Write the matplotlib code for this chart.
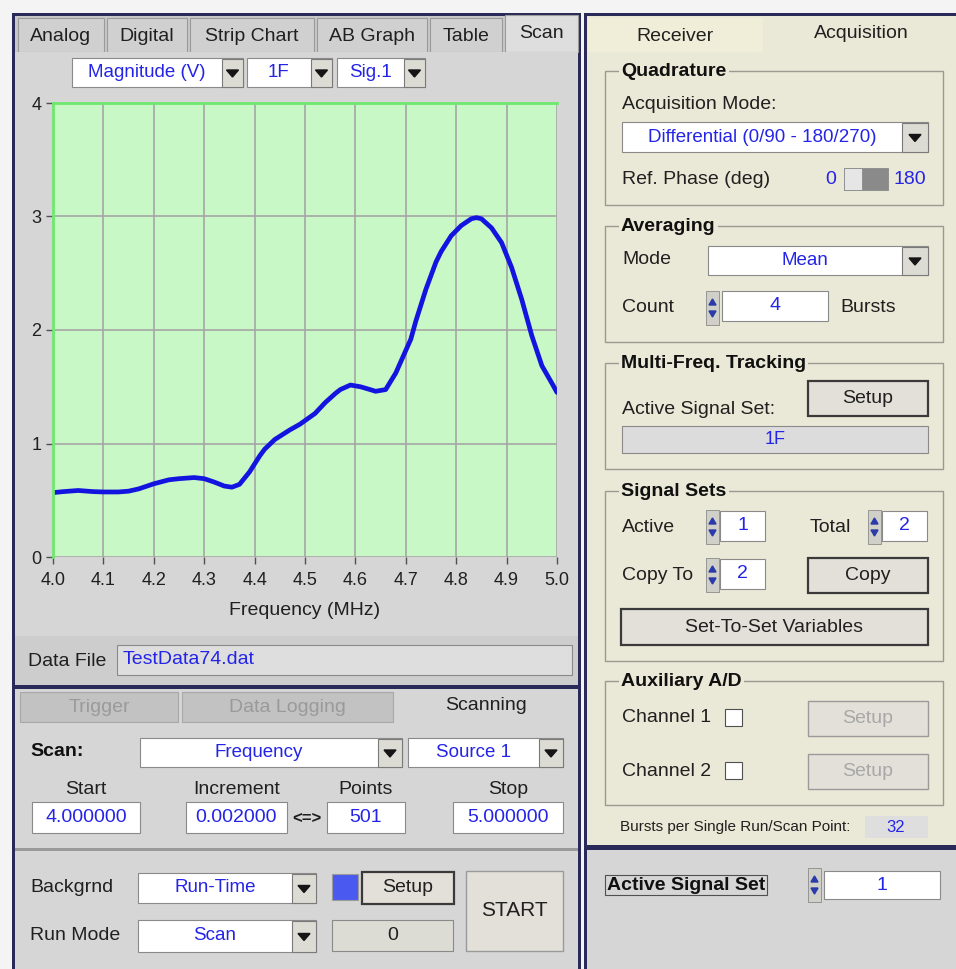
import numpy as np
import matplotlib.pyplot as plt
from matplotlib.patches import Rectangle, Polygon

# scan data (frequency in MHz, magnitude in V)
freq = [4.00, 4.02, 4.05, 4.08, 4.10, 4.13, 4.15, 4.17, 4.20, 4.23, 4.25, 4.28,
        4.30, 4.32, 4.34, 4.355, 4.37, 4.39, 4.41, 4.42, 4.44, 4.47, 4.49, 4.52,
        4.54, 4.56, 4.57, 4.59, 4.61, 4.63, 4.64, 4.66, 4.68, 4.69, 4.71, 4.72,
        4.74, 4.76, 4.77, 4.79, 4.81, 4.83, 4.84, 4.85, 4.87, 4.89, 4.91, 4.93,
        4.95, 4.97, 4.99, 5.00]
mag = [0.567, 0.576, 0.586, 0.576, 0.573, 0.573, 0.58, 0.60, 0.645, 0.68, 0.69, 0.70,
       0.69, 0.66, 0.625, 0.615, 0.64, 0.75, 0.89, 0.95, 1.035, 1.12, 1.17, 1.265,
       1.36, 1.44, 1.475, 1.515, 1.50, 1.474, 1.46, 1.475, 1.62, 1.72, 1.92, 2.08,
       2.36, 2.60, 2.69, 2.83, 2.92, 2.98, 2.99, 2.98, 2.90, 2.77, 2.55, 2.27,
       1.95, 1.685, 1.53, 1.45]
xticks = [4.0, 4.1, 4.2, 4.3, 4.4, 4.5, 4.6, 4.7, 4.8, 4.9, 5.0]
yticks = [0, 1, 2, 3, 4]

top_tabs = ["Analog", "Digital", "Strip Chart", "AB Graph", "Table", "Scan"]
scan_fields = ["Start", "Increment", "Points", "Stop"]
scan_values = ["4.000000", "0.002000", "501", "5.000000"]

BLUE = '#2424e8'
GREY = '#d6d6d6'
BEIGE = '#eae8d6'
NAVY = '#2a2a5a'
FONT = 'Liberation Sans'

W, H = 956, 969
fig = plt.figure(figsize=(W / 100, H / 100), dpi=100)
bg = fig.add_axes([0, 0, 1, 1])
bg.set_xlim(0, W)
bg.set_ylim(H, 0)
bg.axis('off')


def box(x0, y0, x1, y1, fc, ec='none', lw=1.0, z=1):
    bg.add_patch(Rectangle((x0, y0), x1 - x0, y1 - y0, facecolor=fc,
                           edgecolor=ec, linewidth=lw, zorder=z))


def txt(x, y, s, size=13.5, color='#202020', ha='left', weight='normal', z=6, **kw):
    bg.text(x, y, s, fontsize=size, color=color, ha=ha, va='center',
            fontweight=weight, zorder=z, family=FONT, **kw)


def field(x0, y0, x1, y1, s='', fc='white', color=BLUE, ha='center', size=13.5):
    box(x0, y0, x1, y1, fc, '#8a8a8a', 0.8, z=3)
    if s:
        xx = (x0 + x1) / 2 if ha == 'center' else x0 + 6
        txt(xx, (y0 + y1) / 2, s, size=size, color=color, ha=ha)


def arrow_btn(x0, y0, x1, y1):
    box(x0, y0, x1, y1, '#dcdcd4', '#7a7a7a', 0.8, z=4)
    cx, cy = (x0 + x1) / 2, (y0 + y1) / 2
    bg.add_patch(Polygon([[cx - 6, cy - 3], [cx + 6, cy - 3], [cx, cy + 4]],
                         closed=True, color='#151515', zorder=5))


def dropdown(x0, y0, x1, y1, s, cx=None, bw=21):
    box(x0, y0, x1, y1, 'white', '#8a8a8a', 0.8, z=3)
    arrow_btn(x1 - bw, y0 + 1, x1, y1)
    txt(cx if cx else (x0 + x1 - bw) / 2, (y0 + y1) / 2, s, color=BLUE, ha='center')


def button(x0, y0, x1, y1, s, disabled=False, dark=True, size=13.5):
    box(x0, y0, x1, y1, '#e2e0d8', '#3a3a3a' if dark else '#9a9a9a', 1.6 if dark else 1.0, z=3)
    txt((x0 + x1) / 2, (y0 + y1) / 2, s, color='#a8a8a8' if disabled else '#202020',
        ha='center', size=size)


def spinner(x0, y0, y1):
    box(x0, y0, x0 + 13, y1, '#d0d0c8', '#8a8a8a', 0.6, z=3)
    m = (y0 + y1) / 2
    bg.add_patch(Polygon([[x0 + 3, m - 3], [x0 + 10, m - 3], [x0 + 6.5, m - 9]], color='#2a3aa8', zorder=4))
    bg.add_patch(Polygon([[x0 + 3, m + 3], [x0 + 10, m + 3], [x0 + 6.5, m + 9]], color='#2a3aa8', zorder=4))


def group(x0, y0, x1, y1, title):
    box(x0, y0, x1, y1, 'none', '#9a9a90', 1.0, z=2)
    txt(x0 + 16, y0, title, size=14, weight='bold', color='#101010',
        bbox=dict(boxstyle='square,pad=0.12', fc=BEIGE, ec='none'))


# ---------- frame ----------
box(0, 0, W, H, '#f4f4f4')
box(12, 13, 581, H, NAVY)
box(15, 16, 578, H, '#c8c8c8')
box(584, 13, W, H, NAVY)
box(587, 16, W, 847, BEIGE)
box(587, 850, W, H, GREY)

# ---------- top tabs (left) ----------
tab_x = [(18, 104), (107, 187), (190, 314), (317, 427), (430, 502), (505, 578)]
for (a, b), name in zip(tab_x, top_tabs):
    active = name == "Scan"
    box(a, 18 if not active else 15, b, 52, '#dedede' if active else '#d0d0d0',
        '#9a9a9a', 0.8, z=2)
    txt((a + b) / 2, 36 if not active else 33, name, size=14, ha='center')
box(15, 52, 578, 640, GREY, z=2)

dropdown(72, 58, 243, 87, "Magnitude (V)")
dropdown(247, 58, 332, 87, "1F")
dropdown(337, 58, 425, 87, "Sig.1")

# ---------- the scan plot ----------
ax = fig.add_axes([53 / W, 1 - 557 / H, (557 - 53) / W, (557 - 103) / H])
ax.set_facecolor('#c8f8c6')
ax.plot(freq, mag, color='#1414e0', lw=3.4, solid_capstyle='round', solid_joinstyle='round')
ax.set_xlim(4.0, 5.0)
ax.set_ylim(0, 4)
ax.set_xticks(xticks)
ax.set_xticklabels([f"{v:.1f}" for v in xticks])
ax.set_yticks(yticks)
ax.grid(True, color='#a6a6a6', lw=1.2)
for side in ['bottom', 'right']:
    ax.spines[side].set_visible(False)
for side in ['top', 'left']:
    ax.spines[side].set_color('#6ee86e')
    ax.spines[side].set_linewidth(2)
ax.tick_params(axis='x', pad=6)
ax.tick_params(length=5, width=1, color='#505050', labelsize=13, labelcolor='#202020')
for lab in ax.get_xticklabels() + ax.get_yticklabels():
    lab.set_family(FONT)
ax.set_xlabel("Frequency (MHz)", fontsize=14, family=FONT, color='#202020', labelpad=9)

# ---------- data file ----------
box(15, 636, 578, 686, '#cdcdcd', z=2)
txt(28, 661, "Data File", size=14)
field(117, 645, 572, 675, "TestData74.dat", fc='#dedede', ha='left', size=14)
box(15, 685, 578, 689, NAVY, z=3)

# ---------- scanning tabs ----------
box(15, 689, 578, H, GREY, z=2)
box(20, 692, 178, 722, '#c2c2c2', '#a8a8a8', 0.8, z=3)
txt(99, 708, "Trigger", size=14, color='#9a9a9a', ha='center')
box(182, 692, 393, 722, '#c2c2c2', '#a8a8a8', 0.8, z=3)
txt(287, 708, "Data Logging", size=14, color='#9a9a9a', ha='center')
txt(486, 706, "Scanning", size=14, ha='center')

txt(30, 752, "Scan:", size=14, weight='bold', color='#101010')
dropdown(140, 738, 402, 767, "Frequency", bw=24)
dropdown(408, 738, 563, 767, "Source 1", bw=24)

field_x = [(32, 140), (186, 287), (327, 405), (453, 563)]
for (a, b), name, val in zip(field_x, scan_fields, scan_values):
    txt((a + b) / 2, 789, name, size=14, ha='center')
    field(a, 802, b, 833, val, size=14)
txt(307, 819, "<=>", size=12, ha='center', weight='bold')
box(15, 848, 578, 851, '#9a9a9a', z=3)

# ---------- run controls ----------
txt(30, 888, "Backgrnd", size=14)
dropdown(138, 873, 316, 903, "Run-Time", bw=24)
txt(30, 936, "Run Mode", size=14)
dropdown(138, 920, 316, 952, "Scan", bw=24)
box(332, 874, 358, 900, '#4a5af0', '#9a9a9a', 0.8, z=3)
button(362, 872, 454, 904, "Setup", size=14)
field(332, 920, 453, 951, "0", fc='#dcdcd4', color='#202020', size=14)
button(466, 871, 563, 951, "START", dark=False, size=15)

# ---------- right tabs ----------
box(588, 18, 763, 52, '#f0eed8', 'none', z=2)
txt(675, 36, "Receiver", size=14, ha='center')
txt(861, 33, "Acquisition", size=14, ha='center')

# quadrature
group(605, 71, 943, 205, "Quadrature")
txt(622, 104, "Acquisition Mode:", size=14)
dropdown(622, 122, 928, 152, "Differential (0/90 - 180/270)", bw=26)
txt(622, 179, "Ref. Phase (deg)", size=14)
txt(831, 179, "0", size=14, color=BLUE, ha='center')
box(844, 168, 888, 190, '#8a8a8a', '#8a8a8a', 0.6, z=3)
box(844, 168, 862, 190, '#e6e6e6', '#8a8a8a', 0.6, z=4)
txt(910, 179, "180", size=14, color=BLUE, ha='center')

# averaging
group(605, 226, 943, 342, "Averaging")
txt(622, 260, "Mode", size=14)
dropdown(708, 246, 928, 275, "Mean", bw=26)
txt(622, 308, "Count", size=14)
spinner(706, 291, 325)
field(722, 291, 828, 321, "4", size=14)
txt(840, 308, "Bursts", size=14)

# multi-freq
group(605, 363, 943, 469, "Multi-Freq. Tracking")
txt(622, 409, "Active Signal Set:", size=14)
button(808, 381, 928, 416, "Setup", size=14)
field(622, 426, 928, 453, "1F", fc='#dcdcdc', size=13)

# signal sets
group(605, 491, 943, 661, "Signal Sets")
txt(622, 527, "Active", size=14)
spinner(706, 510, 544)
field(720, 511, 765, 541, "1", size=14)
txt(810, 527, "Total", size=14)
spinner(868, 510, 544)
field(882, 511, 927, 541, "2", size=14)
txt(622, 575, "Copy To", size=14)
spinner(706, 558, 592)
field(720, 559, 765, 589, "2", size=14)
button(808, 558, 928, 593, "Copy", size=14)
button(621, 609, 928, 645, "Set-To-Set Variables", size=14)

# auxiliary
group(605, 681, 943, 805, "Auxiliary A/D")
txt(622, 718, "Channel 1", size=14)
box(725, 709, 742, 726, 'white', '#505050', 0.8, z=3)
button(808, 701, 928, 736, "Setup", disabled=True, dark=False, size=14)
txt(622, 771, "Channel 2", size=14)
box(725, 762, 742, 779, 'white', '#505050', 0.8, z=3)
button(808, 754, 928, 789, "Setup", disabled=True, dark=False, size=14)

txt(620, 827, "Bursts per Single Run/Scan Point:", size=11)
box(865, 816, 928, 838, '#dedede', z=3)
txt(896, 827, "32", size=12, color=BLUE, ha='center')
box(587, 845, W, 849, NAVY, z=3)

# active signal set
txt(607, 885, "Active Signal Set", size=14, weight='bold', color='#101010',
    bbox=dict(boxstyle='square,pad=0.1', fc=GREY, ec='#505050', lw=0.8))
spinner(808, 868, 902)
field(824, 871, 940, 899, "1", size=14)

fig.savefig('out.png', dpi=100)
